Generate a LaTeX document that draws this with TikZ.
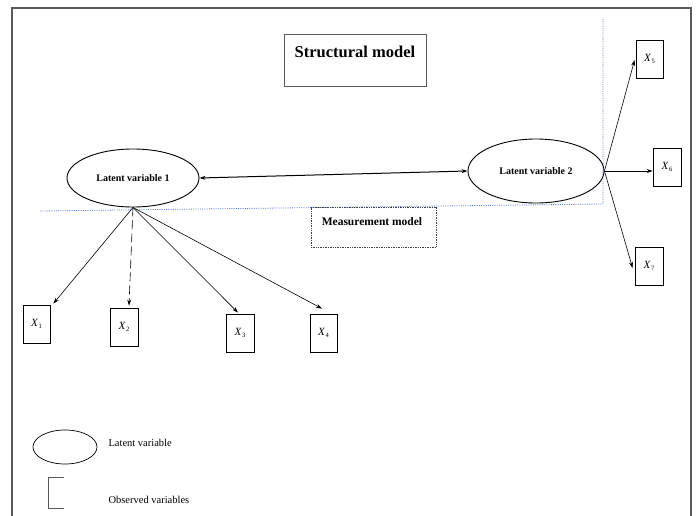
\documentclass[tikz,border=0pt]{standalone}
\usepackage{fontspec}
\setmainfont{Liberation Serif}
\usetikzlibrary{shapes.geometric,arrows.meta,calc}
\definecolor{sepblue}{RGB}{90,125,215}
\newcommand{\xv}[1]{\textit{X}\kern0.3pt\raisebox{-2.2pt}{\fontsize{6.5}{7}\selectfont #1}}
\tikzset{
  latent/.style={ellipse,draw,line width=0.9pt,inner sep=0pt,font=\fontsize{10}{12}\selectfont\bfseries},
  obs/.style={rectangle,draw,line width=0.8pt,minimum width=27pt,minimum height=38pt,inner sep=0pt,font=\fontsize{11}{12}\selectfont},
  arr/.style={-{Stealth[length=6pt,width=4pt]},line width=0.6pt},
  sep/.style={sepblue,densely dotted,line width=0.8pt},
  legtext/.style={anchor=west,font=\fontsize{10.5}{12}\selectfont}
}
\begin{document}
\begin{tikzpicture}[x=1pt,y=-1pt]
\useasboundingbox (0,0) rectangle (699,516);
% outer frame
\draw[gray!70!black,line width=1.3pt] (12,516) -- (12,8) -- (691,8) -- (691,516);
% title
\node[draw,gray!70!black,line width=0.8pt,minimum width=142pt,minimum height=52pt,inner sep=0pt] (title) at (355,60) {};
\node[font=\fontsize{16.5}{18}\selectfont\bfseries] (titletext) at (355,52) {Structural model};
% separator lines
\draw[sep] (40,211) -- (603,204) -- (603,18);
% measurement model
\node[draw,gray!50!black,densely dotted,line width=0.7pt,minimum width=125pt,minimum height=40pt,inner sep=0pt] (mm) at (373.5,227) {};
\node[font=\fontsize{11.5}{13}\selectfont\bfseries] (mmtext) at (372,222) {Measurement model};
% latent variables
\node[latent,minimum width=132pt,minimum height=58pt] (lv1) at (133,178) {Latent variable 1};
\node[latent,minimum width=136pt,minimum height=64pt] (lv2) at (536,171) {Latent variable 2};
\draw[{Stealth[length=6pt,width=4pt]}-{Stealth[length=6pt,width=4pt]},line width=1pt] (lv1.east) -- (lv2.west);
% observed variables
\node[obs] (x1) at (36.5,324) {\xv{1}};
\node[obs,minimum width=28pt] (x2) at (124,327) {\xv{2}};
\node[obs,minimum width=28pt] (x3) at (240,333) {\xv{3}};
\node[obs] (x4) at (323.5,333) {\xv{4}};
\node[obs] (x5) at (649.5,59) {\xv{5}};
\node[obs,minimum width=28pt] (x6) at (667,167) {\xv{6}};
\node[obs,minimum width=28pt] (x7) at (649,266) {\xv{7}};
% arrows
\draw[arr] (lv1.south) -- ($(x1.north east)+(3,-1)$);
\draw[arr,dash pattern=on 9pt off 4pt] (lv1.south) -- ($(x2.north)+(5,-2)$);
\draw[arr] (lv1.south) -- ($(x3.north)+(-2,-1)$);
\draw[arr] (lv1.south) -- ($(x4.north)+(-1.5,-5)$);
\draw[arr] (lv2.east) -- ($(x5.west)+(-1,1)$);
\draw[arr] (lv2.east) -- ($(x6.west)+(0,4)$);
\draw[arr] (lv2.east) -- ($(x7.west)+(-2,2)$);
% legend
\node[ellipse,draw,line width=0.7pt,minimum width=64pt,minimum height=34pt,inner sep=0pt] (legell) at (65,447) {};
\node[legtext] (legl) at (105,443) {Latent variable};
\draw[gray!70!black,line width=0.8pt] (64,477) -- (48,477) -- (48,508) -- (64,508);
\node[legtext] (lego) at (105,500) {Observed variables};
\end{tikzpicture}
\end{document}
